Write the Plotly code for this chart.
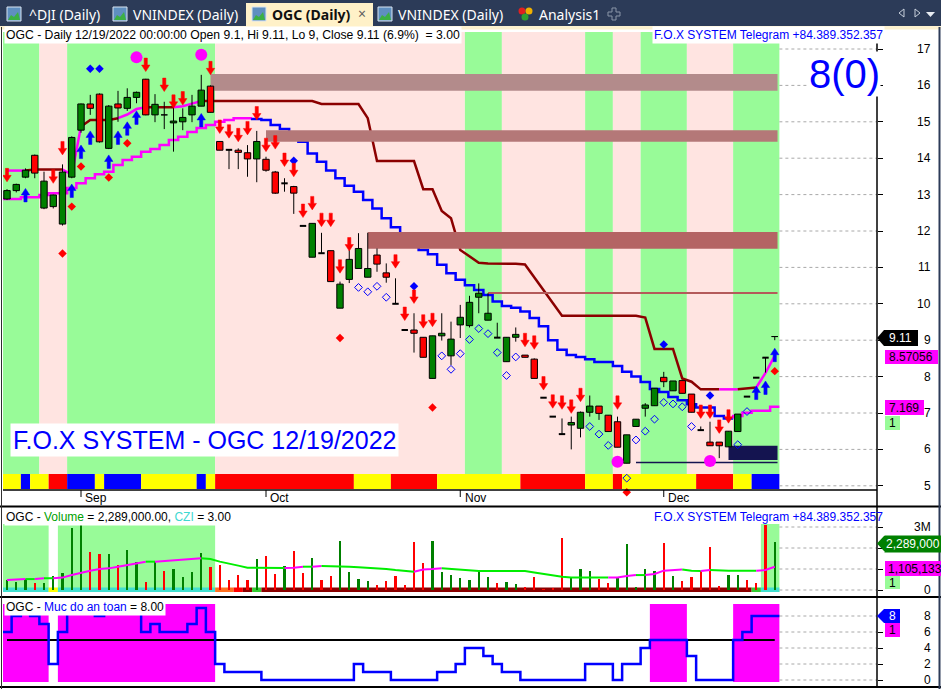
import plotly.graph_objects as go

W, H = 941, 689
def PX(x): return x / W
def PY(y): return 1 - y / H

BAR_PX = 9.25      # pixel width of one bar slot (glyph sizing only)
PRICE_PX = 36.4    # pixels per price unit (glyph sizing only)

# ---------------- data ----------------
months = ["Sep", "Oct", "Nov", "Dec"]
month_bar = [8, 28, 49, 71]

opens = [12.88, 13.11, 13.48, 14.08, 12.63, 12.67, 12.19, 13.48, 14.77, 15.49,
         15.76, 14.27, 15.49, 15.37, 15.67, 16.17, 15.19, 15.19, 14.97, 15.00,
         15.19, 15.43, 15.98, 14.46, 14.23, 14.22, 14.15, 13.98, 13.97, 13.62,
         13.31, 13.22, 12.14, 11.28, 11.39, 11.46, 9.88, 10.67, 10.97, 10.73,
         11.34, 10.85, 10.00, 9.28, 9.28, 9.08, 7.95, 9.12, 8.57, 9.42,
         9.40, 10.18, 9.55, 9.07, 8.41, 9.08, 8.59, 8.48, 7.42, 6.90,
         6.42, 6.67, 6.58, 7.02, 7.19, 6.94, 6.76, 5.62, 6.63, 7.13,
         7.20, 7.98, 7.61, 7.89, 7.52, 6.53, 6.20, 6.20, 6.07, 6.49,
         7.45, 7.97, 8.52, 9.10]
highs = [13.15, 13.30, 13.72, 14.10, 13.63, 13.00, 13.83, 14.60, 15.50, 15.74,
         15.78, 15.46, 15.85, 15.92, 15.83, 16.18, 15.76, 15.55, 15.46, 15.37,
         15.74, 16.29, 16.00, 14.46, 14.25, 14.27, 14.36, 14.75, 14.04, 13.65,
         13.45, 13.24, 12.14, 12.21, 11.95, 11.46, 10.61, 11.48, 11.94, 11.95,
         11.52, 11.11, 10.70, 9.28, 9.74, 9.08, 9.12, 9.74, 9.51, 9.97,
         10.22, 10.56, 10.29, 9.48, 9.08, 9.35, 8.59, 8.50, 7.42, 6.90,
         6.85, 6.90, 7.04, 7.48, 7.19, 6.94, 6.90, 6.40, 6.83, 7.27,
         7.68, 8.13, 7.88, 7.89, 7.52, 6.63, 6.76, 6.20, 6.50, 6.97,
         7.45, 7.97, 8.52, 9.11]
lows = [12.85, 13.06, 13.45, 13.45, 12.60, 12.62, 12.15, 13.45, 14.70, 15.19,
        14.43, 14.25, 15.00, 15.30, 15.51, 15.18, 14.99, 14.80, 14.18, 14.77,
        14.99, 15.43, 15.26, 14.22, 13.70, 13.70, 13.49, 13.34, 13.63, 13.02,
        13.08, 12.47, 12.14, 11.28, 11.39, 10.61, 9.88, 10.57, 10.97, 10.73,
        10.88, 10.58, 10.00, 9.28, 8.66, 8.53, 7.95, 8.99, 8.32, 9.06,
        9.35, 9.74, 9.55, 9.07, 8.41, 8.96, 8.53, 7.95, 7.42, 6.90,
        6.42, 6.00, 6.33, 6.90, 6.81, 6.49, 6.06, 5.62, 6.63, 6.90,
        7.20, 7.71, 7.61, 7.54, 7.02, 6.53, 6.10, 5.76, 6.07, 6.49,
        7.45, 7.97, 8.11, 9.00]
closes = [13.11, 13.28, 13.67, 13.59, 13.37, 12.99, 13.62, 14.57, 15.49, 15.37,
          14.45, 15.43, 15.38, 15.67, 15.81, 15.19, 15.48, 15.20, 15.02, 15.12,
          15.43, 15.87, 15.26, 14.22, 14.23, 14.16, 13.98, 14.46, 13.67, 13.04,
          13.31, 13.04, 12.14, 12.21, 11.39, 10.61, 10.54, 11.22, 11.52, 10.97,
          11.09, 10.73, 10.00, 9.28, 9.19, 8.53, 9.12, 9.19, 9.03, 9.63,
          10.04, 10.29, 9.74, 9.07, 9.08, 9.16, 8.53, 7.95, 7.42, 6.90,
          6.42, 6.74, 7.02, 7.19, 6.99, 6.49, 6.06, 6.40, 6.83, 7.22,
          7.68, 7.86, 7.88, 7.54, 7.02, 6.53, 6.10, 6.10, 6.50, 6.97,
          7.45, 7.97, 8.52, 9.11]

# upper trailing stop line and its state per bar (U = below price, D = above)
stop_line = [13.66, 13.66, 13.66, 13.69, 13.69, 13.69, 13.69, 13.55, 14.87, 15.05,
             15.05, 15.05, 15.10, 15.20, 15.35, 15.40, 15.40, 15.40, 15.40, 15.43,
             15.50, 15.57, 15.57, 15.57, 15.57, 15.57, 15.57, 15.57, 15.57, 15.57,
             15.57, 15.57, 15.57, 15.57, 15.49, 15.49, 15.49, 15.49, 15.49, 15.10,
             13.92, 13.92, 13.92, 13.92, 13.92, 13.15, 13.15, 12.55, 12.35, 11.48,
             11.30, 11.13, 11.11, 11.11, 11.11, 11.10, 11.08, 10.73, 10.38, 10.02,
             9.67, 9.67, 9.67, 9.67, 9.67, 9.67, 9.67, 9.67, 9.67, 9.62,
             8.76, 8.76, 8.76, 7.95, 7.86, 7.65, 7.65, 7.65, 7.65, 7.65,
             7.68, 7.70, 8.10, 8.57056]
stop_runs = [(0, 2, "U"), (3, 6, "D"), (7, 8, "U"), (9, 12, "D"), (13, 15, "U"),
             (16, 18, "D"), (19, 21, "U"), (22, 77, "D"), (78, 79, "U"),
             (80, 81, "D"), (82, 83, "U")]

# lower stepped line
trail_line = [12.88, 12.88, 12.93, 12.93, 12.99, 13.04, 13.04, 13.18, 13.31, 13.45,
              13.56, 13.63, 13.81, 13.95, 14.04, 14.18, 14.25, 14.36, 14.50, 14.59,
              14.72, 14.83, 14.91, 15.00, 15.05, 15.10, 15.10, 15.08, 15.05, 14.91,
              14.80, 14.60, 14.45, 14.13, 13.90, 13.66, 13.45, 13.24, 13.08, 12.85,
              12.62, 12.35, 12.10, 11.84, 11.60, 11.48, 11.36, 11.07, 10.84, 10.66,
              10.51, 10.38, 10.24, 10.06, 9.94, 9.89, 9.79, 9.61, 9.38, 9.00,
              8.74, 8.59, 8.54, 8.48, 8.40, 8.40, 8.29, 8.13, 8.00, 7.85,
              7.66, 7.58, 7.44, 7.35, 7.24, 7.15, 7.15, 6.92, 6.85, 6.92,
              7.01, 7.06, 7.06, 7.169]
trail_runs = [(0, 26, "U"), (27, 78, "D"), (79, 83, "U")]

# resistance / support zones
zone_lo = [15.85, 14.45, 11.51]
zone_hi = [16.31, 14.77, 11.97]
zone_start = [22, 28, 39]
level_price, level_start = 10.30, 52
box_lo, box_hi, box_start = 5.71, 6.10, 78
floor_price, floor_start = 5.64, 68

# signals
sell_bar = [0, 5, 6, 15, 17, 18, 19, 22, 23, 24, 25, 26, 27, 28, 29, 30, 31, 32, 33, 34,
            35, 36, 37, 42, 43, 44, 45, 46, 56, 57, 58, 59, 60, 61, 62, 66, 75, 76, 77, 78]
sell_tip = [13.35, 13.31, 14.09, 16.38, 15.83, 15.37, 15.46, 16.29, 14.68, 14.55,
            14.45, 14.64, 15.05, 14.18, 14.25, 13.77, 13.49, 12.37, 12.58, 12.12,
            12.12, 10.84, 11.45, 10.98, 9.54, 10.01, 9.33, 9.37, 8.82, 8.75,
            7.63, 7.13, 7.10, 6.99, 7.31, 7.10, 6.85, 6.85, 6.44, 6.72]
buy_bar = [2, 7, 8, 9, 11, 12, 13, 14, 21, 81, 82, 83]
buy_tip = [13.17, 13.29, 14.36, 14.75, 14.09, 14.75, 15.00, 15.30, 15.23, 7.74, 7.88, 8.78]
red_dot_bar = [6, 7, 8, 11, 13, 36, 46, 67, 83]
red_dot_px = [11.38, 12.67, 13.77, 13.47, 14.41, 9.06, 7.15, 4.82, 8.15]
blue_dot_bar = [9, 10, 31, 44, 71, 76]
blue_dot_px = [16.46, 16.46, 13.93, 10.48, 8.88, 7.48]
pink_circle_bar = [14, 21, 66, 76]
pink_circle_px = [16.77, 16.84, 5.66, 5.68]
hollow_bar = [38, 39, 40, 41, 47, 48, 49, 50, 51, 52, 53, 54, 55, 63, 64, 65, 67, 68,
              69, 70, 71, 72, 73, 74, 79, 80]
hollow_px = [10.45, 10.33, 10.48, 10.18, 8.57, 8.20, 8.63, 9.02, 9.32, 9.18, 8.66,
             8.03, 8.54, 6.63, 6.42, 6.11, 5.21, 6.26, 6.50, 6.83, 7.29, 7.25, 7.17,
             6.63, 6.13, 7.04]

# background regimes (start bar, end bar, code)
price_bg_runs = [(0, 3, "G"), (4, 6, "P"), (7, 22, "G"), (23, 49, "P"), (50, 53, "G"),
                 (54, 62, "P"), (63, 65, "G"), (66, 68, "P"), (69, 73, "G"),
                 (74, 78, "P"), (79, 83, "G")]
trend_strip_runs = [(0, 1, "Y"), (2, 2, "B"), (3, 4, "Y"), (5, 6, "R"), (7, 9, "B"),
                    (10, 10, "Y"), (11, 14, "B"), (15, 20, "Y"), (21, 21, "B"),
                    (22, 22, "Y"), (23, 37, "R"), (38, 41, "Y"), (42, 46, "R"),
                    (47, 55, "Y"), (56, 62, "R"), (63, 65, "Y"), (66, 66, "R"),
                    (67, 74, "Y"), (75, 78, "R"), (79, 80, "Y"), (81, 83, "B")]
vol_bg_runs = [(0, 4), (6, 22), (82, 83)]
vol_strip_runs = [(0, 4, "C"), (5, 5, "Y"), (6, 22, "C"), (23, 24, "O"), (25, 25, "R"),
                  (26, 26, "D"), (27, 27, "G"), (28, 80, "D"), (81, 81, "G"), (82, 83, "C")]
safety_bg_runs = [(0, 4), (6, 22), (70, 73), (79, 83)]

# volume (thousand shares), direction, moving average (millions)
volume_k = [480, 400, 520, 350, 350, 670, 830, 2940, 3140, 1830,
            1710, 1710, 1190, 1900, 1350, 400, 1350, 920, 1000, 630,
            870, 1780, 1110, 1190, 480, 710, 480, 1480, 1620, 760,
            1140, 1870, 830, 1540, 480, 670, 2330, 870, 520, 430,
            240, 430, 670, 240, 2300, 1270, 2350, 870, 710, 590,
            500, 950, 600, 320, 400, 290, 130, 600, 30, 50,
            2490, 560, 1000, 920, 520, 320, 600, 2190, 130, 1000,
            900, 2250, 670, 440, 600, 920, 2060, 190, 710, 710,
            480, 350, 3100, 2289]
volume_dir = list("gggrgggggrrgrggrgrgggg" + "rrrrrgrrgrrgrrgggg" + "rrrrrrggggggg" +
                  "rggrrrrrgggrrgggggrgrrrrrggrrrg")
vol_ma_m = [0.48, 0.51, 0.52, 0.52, 0.56, 0.56, 0.59, 0.71, 0.83, 0.92,
            1.00, 1.03, 1.11, 1.19, 1.30, 1.35, 1.35, 1.38, 1.40, 1.43,
            1.48, 1.51, 1.48, 1.35, 1.24, 1.16, 1.06, 1.06, 1.06, 1.05,
            1.05, 1.06, 1.11, 1.11, 1.14, 1.14, 1.11, 1.11, 1.08, 1.06,
            1.03, 1.00, 0.95, 0.90, 0.87, 0.98, 1.00, 1.03, 1.00, 0.95,
            0.92, 0.90, 0.90, 0.90, 0.90, 0.90, 0.90, 0.83, 0.76, 0.67,
            0.63, 0.60, 0.60, 0.60, 0.59, 0.59, 0.60, 0.67, 0.71, 0.71,
            0.76, 0.92, 0.95, 0.98, 0.92, 0.90, 0.95, 0.92, 0.92, 0.92,
            0.92, 0.92, 0.95, 1.105133]

# safety level ("Muc do an toan")
safety = [6, 8, 9, 8, 7, 2, 6, 9, 9, 9,
          8, 9, 9, 9, 9, 6, 7, 6, 6, 6,
          7, 9, 6, 2, 1, 1, 1, 1, 0, 0,
          0, 0, 0, 0, 0, 0, 0, 0, 2, 1,
          1, 1, 0, 0, 0, 0, 0, 1, 1, 2,
          4, 4, 3, 2, 1, 1, 0, 0, 0, 0,
          0, 0, 0, 2, 2, 2, 0, 2, 2, 4,
          5, 5, 5, 5, 3, 0, 0, 0, 0, 5,
          6, 8, 8, 8]
safety_threshold = 5

price_ticks = list(range(5, 18))
volume_ticks = [0, 1e6, 2e6, 3e6]
volume_tick_text = ["0", "", "2M", "3M"]   # 1M is hidden behind the value label
safety_ticks = [0, 2, 4, 6, 8]

tab_labels = ["^DJI (Daily)", "VNINDEX (Daily)", "OGC (Daily)", "VNINDEX (Daily)", "Analysis1"]

# ---------------- styling ----------------
FONT = "Liberation Sans, Arial, sans-serif"
GREEN_BG = "#98FB98"
PINK_BG = "#FFE4E1"
MAGENTA = "#FF00FF"
MAROON = "#8B0000"
BLUE = "#0000FF"
STRIP_COL = {"Y": "#FFFF00", "B": "#0000FF", "R": "#FF0000"}
VSTRIP_COL = {"C": "#40E0D0", "Y": "#FFFF00", "O": "#FF7020", "R": "#FF0000",
              "D": "#8B0000", "G": "#32CD32"}
ZONE_COL = ["#B38B8B", "#B47878", "#B46464"]

n = len(closes)
idx = list(range(n))
last_x = n - 1 + 0.3
X0 = (3 - 7) / BAR_PX
X1 = (877 - 7) / BAR_PX
P_TOP = 17 + (49 - 29) / PRICE_PX
P_BOT = 17 - (505 - 49) / PRICE_PX

fig = go.Figure()
shapes = []
ann = []

def rect_paper(x0, y0, x1, y1, color, layer="below", line=None):
    shapes.append(dict(type="rect", xref="paper", yref="paper", x0=PX(x0), x1=PX(x1),
                       y0=PY(y1), y1=PY(y0), fillcolor=color, layer=layer,
                       line=line or dict(width=0)))

def line_paper(x0, y0, x1, y1, color="black", width=1, layer="above", dash=None):
    d = dict(type="line", xref="paper", yref="paper", x0=PX(x0), x1=PX(x1),
             y0=PY(y0), y1=PY(y1), layer=layer, line=dict(color=color, width=width))
    if dash:
        d["line"]["dash"] = dash
    shapes.append(d)

def text(x, y, s, size=12, color="black", xanchor="left", bg=None, family=FONT, pad=1):
    a = dict(xref="paper", yref="paper", x=PX(x), y=PY(y), text=s, showarrow=False,
             xanchor=xanchor, yanchor="middle", font=dict(size=size, color=color, family=family),
             borderpad=pad)
    if bg:
        a["bgcolor"] = bg
    ann.append(a)

# ---- price panel background shading ----
for a, b, c in price_bg_runs:
    shapes.append(dict(type="rect", xref="x", yref="paper", x0=a - 0.5, x1=b + 0.5,
                       y0=PY(474), y1=PY(32), fillcolor=GREEN_BG if c == "G" else PINK_BG,
                       layer="below", line=dict(width=0)))
for a, b, c in trend_strip_runs:
    shapes.append(dict(type="rect", xref="x", yref="paper", x0=a - 0.5, x1=b + 0.5,
                       y0=PY(489), y1=PY(474), fillcolor=STRIP_COL[c], layer="below",
                       line=dict(width=0)))
for p in price_ticks:
    shapes.append(dict(type="line", xref="x", yref="y", x0=n - 0.5, x1=X1, y0=p, y1=p,
                       layer="below", line=dict(color="#A8A8A8", width=1, dash="dot")))

# ---- volume panel background ----
for a, b in vol_bg_runs:
    shapes.append(dict(type="rect", xref="x", yref="paper", x0=a - 0.5, x1=b + 0.5,
                       y0=PY(592), y1=PY(524), fillcolor=GREEN_BG, layer="below",
                       line=dict(width=0)))
for a, b, c in vol_strip_runs:
    shapes.append(dict(type="rect", xref="x", yref="paper", x0=a - 0.5, x1=b + 0.5,
                       y0=PY(592), y1=PY(587.5), fillcolor=VSTRIP_COL[c], layer="below",
                       line=dict(width=0)))
for v in volume_ticks:
    shapes.append(dict(type="line", xref="x", yref="y2", x0=n - 0.5, x1=X1, y0=v, y1=v,
                       layer="below", line=dict(color="#A8A8A8", width=1, dash="dot")))

# ---- safety panel background ----
for a, b in safety_bg_runs:
    shapes.append(dict(type="rect", xref="x", yref="paper", x0=a - 0.5, x1=b + 0.5,
                       y0=PY(682), y1=PY(604), fillcolor=MAGENTA, layer="below",
                       line=dict(width=0)))
for v in safety_ticks:
    shapes.append(dict(type="line", xref="x", yref="y3", x0=n - 0.5, x1=X1, y0=v, y1=v,
                       layer="below", line=dict(color="#A8A8A8", width=1, dash="dot")))
shapes.append(dict(type="line", xref="x", yref="y3", x0=0, x1=n - 1, y0=safety_threshold,
                   y1=safety_threshold, layer="below", line=dict(color="black", width=2)))

# ---- price traces ----
STOP_COL = {"U": MAGENTA, "D": MAROON}
for a, b, st in stop_runs:
    i0 = max(a - 1, 0)
    fig.add_trace(go.Scatter(x=idx[i0:b + 1], y=stop_line[i0:b + 1], mode="lines",
                             line=dict(color=STOP_COL[st], width=2.5),
                             xaxis="x", yaxis="y", hoverinfo="skip"))
TRAIL_COL = {"U": MAGENTA, "D": BLUE}
for a, b, st in trail_runs:
    xs, ys = [], []
    if a > 0:
        xs.append(a - 0.5); ys.append(trail_line[a - 1])
    for i in range(a, b + 1):
        xs.append(i - 0.5); ys.append(trail_line[i])
    xs.append(b + 0.5); ys.append(trail_line[b])
    fig.add_trace(go.Scatter(x=xs, y=ys, mode="lines", line=dict(color=TRAIL_COL[st], width=2.5, shape="hv"),
                             xaxis="x", yaxis="y", hoverinfo="skip"))

# zones drawn above the lines but below candles
for lo, hi, s, col in zip(zone_lo, zone_hi, zone_start, ZONE_COL):
    fig.add_trace(go.Scatter(x=[s, last_x, last_x, s, s], y=[lo, lo, hi, hi, lo], mode="lines",
                             fill="toself", fillcolor=col, line=dict(width=0, color=col),
                             xaxis="x", yaxis="y", hoverinfo="skip"))
fig.add_trace(go.Scatter(x=[level_start, last_x], y=[level_price, level_price], mode="lines",
                         line=dict(color="#B45A5A", width=2), xaxis="x", yaxis="y", hoverinfo="skip"))
fig.add_trace(go.Scatter(x=[floor_start, last_x], y=[floor_price, floor_price], mode="lines",
                         line=dict(color="#141450", width=1.5), xaxis="x", yaxis="y", hoverinfo="skip"))
fig.add_trace(go.Scatter(x=[box_start, last_x, last_x, box_start, box_start],
                         y=[box_lo, box_lo, box_hi, box_hi, box_lo], mode="lines", fill="toself",
                         fillcolor="#141450", line=dict(width=0, color="#141450"),
                         xaxis="x", yaxis="y", hoverinfo="skip"))

# candles (wicks then bodies)
wx, wy = [], []
for i in idx:
    wx += [i, i, None]; wy += [lows[i], highs[i], None]
fig.add_trace(go.Scatter(x=wx, y=wy, mode="lines", line=dict(color="black", width=1),
                         xaxis="x", yaxis="y", hoverinfo="skip"))
hw = 3.2 / BAR_PX
for up in (True, False):
    bx, by = [], []
    for i in idx:
        o, c = opens[i], closes[i]
        if o == c or (c > o) != up:
            continue
        lo, hi = min(o, c), max(o, c)
        bx += [i - hw, i + hw, i + hw, i - hw, i - hw, None]
        by += [lo, lo, hi, hi, lo, None]
    fig.add_trace(go.Scatter(x=bx, y=by, mode="lines", fill="toself",
                             fillcolor="#008000" if up else "#FF0000",
                             line=dict(color="black", width=1), xaxis="x", yaxis="y", hoverinfo="skip"))
dx_, dy_ = [], []
for i in idx:
    if opens[i] == closes[i]:
        dx_ += [i - hw, i + hw, None]; dy_ += [closes[i], closes[i], None]
fig.add_trace(go.Scatter(x=dx_, y=dy_, mode="lines", line=dict(color="black", width=2),
                         xaxis="x", yaxis="y", hoverinfo="skip"))

# markers
fig.add_trace(go.Scatter(x=hollow_bar, y=hollow_px, mode="markers",
                         marker=dict(symbol="diamond-open", size=6, color=BLUE, line=dict(width=1, color=BLUE)),
                         xaxis="x", yaxis="y", hoverinfo="skip"))
fig.add_trace(go.Scatter(x=red_dot_bar, y=red_dot_px, mode="markers",
                         marker=dict(symbol="diamond", size=6.5, color="#FF0000"),
                         xaxis="x", yaxis="y", hoverinfo="skip", cliponaxis=False))
fig.add_trace(go.Scatter(x=blue_dot_bar, y=blue_dot_px, mode="markers",
                         marker=dict(symbol="diamond", size=6.5, color=BLUE),
                         xaxis="x", yaxis="y", hoverinfo="skip"))
fig.add_trace(go.Scatter(x=pink_circle_bar, y=pink_circle_px, mode="markers",
                         marker=dict(symbol="circle", size=12, color=MAGENTA),
                         xaxis="x", yaxis="y", hoverinfo="skip"))

def arrows(bars, tips, down):
    s = -1 if down else 1   # direction from tip toward tail
    ax, ay = [], []
    kx, ky = 1 / BAR_PX, 1 / PRICE_PX
    for b, p in zip(bars, tips):
        pts = [(0, 0), (-4.2, 6.5), (-1.6, 6.5), (-1.6, 13.5), (1.6, 13.5), (1.6, 6.5), (4.2, 6.5), (0, 0)]
        for qx, qy in pts:
            ax.append(b + qx * kx)
            ay.append(p - s * qy * ky)
        ax.append(None); ay.append(None)
    return ax, ay

ax, ay = arrows(sell_bar, sell_tip, True)
fig.add_trace(go.Scatter(x=ax, y=ay, mode="lines", fill="toself", fillcolor="#FF0000",
                         line=dict(color="#FF0000", width=0.5), xaxis="x", yaxis="y", hoverinfo="skip"))
ax, ay = arrows(buy_bar, buy_tip, False)
fig.add_trace(go.Scatter(x=ax, y=ay, mode="lines", fill="toself", fillcolor=BLUE,
                         line=dict(color=BLUE, width=0.5), xaxis="x", yaxis="y", hoverinfo="skip"))

# ---- volume traces ----
fig.add_trace(go.Bar(x=idx, y=[v * 1000 for v in volume_k], width=0.24,
                     marker=dict(color=["#008000" if d == "g" else "#FF0000" for d in volume_dir], line=dict(width=0)),
                     xaxis="x2", yaxis="y2", hoverinfo="skip"))
ma_state = ["U"] + ["U" if vol_ma_m[i] > vol_ma_m[i - 1] else "D" for i in range(1, n)]
runs, s0 = [], 0
for i in range(1, n + 1):
    if i == n or ma_state[i] != ma_state[s0]:
        runs.append((s0, i - 1, ma_state[s0])); s0 = i
for a, b, st in runs:
    i0 = max(a - 1, 0)
    fig.add_trace(go.Scatter(x=idx[i0:b + 1], y=[v * 1e6 for v in vol_ma_m[i0:b + 1]], mode="lines",
                             line=dict(color=MAGENTA if st == "U" else "#00EE00", width=2),
                             xaxis="x2", yaxis="y2", hoverinfo="skip"))

# ---- safety trace ----
sx = [i - 0.5 for i in idx] + [n - 0.5]
sy = safety + [safety[-1]]
fig.add_trace(go.Scatter(x=sx, y=sy, mode="lines", line=dict(color=BLUE, width=2.5, shape="hv"),
                         xaxis="x3", yaxis="y3", hoverinfo="skip"))

# ---- frame lines ----
line_paper(3, 490, 877, 490, width=1.5)
for m, b in zip(months, month_bar):
    shapes.append(dict(type="line", xref="x", yref="paper", x0=b, x1=b, y0=PY(490), y1=PY(497),
                       line=dict(color="black", width=1)))
    ann.append(dict(xref="x", yref="paper", x=b + 0.25, y=PY(497.5), text=m, showarrow=False,
                    xanchor="left", yanchor="middle", font=dict(size=12, color="black", family=FONT)))
line_paper(0, 506.5, 941, 506.5, width=2)
line_paper(0, 597, 941, 597, width=2)
line_paper(0, 687, 941, 687, width=2)
line_paper(877, 29, 877, 687, width=1.5)
line_paper(1.5, 27, 1.5, 689, color="#303030", width=1)
line_paper(939.5, 27, 939.5, 689, color="#2C3B58", width=2)

# ---- tab bar ----
rect_paper(0, 0, 941, 26, "#2C3B58")
rect_paper(0, 26, 941, 29.5, "#FCF1CF")
rect_paper(246, 3, 373, 27, "#FFF1C8")
for x0 in (7, 113, 252, 378):
    rect_paper(x0, 7, x0 + 14, 21, "#5F8FC0", layer="above", line=dict(color="#D8E4F0", width=1))
    shapes.append(dict(type="path", xref="paper", yref="paper", layer="above",
                       path="M %f,%f L %f,%f L %f,%f L %f,%f L %f,%f Z" % (
                           PX(x0 + 1), PY(20), PX(x0 + 4), PY(15), PX(x0 + 7), PY(17),
                           PX(x0 + 11), PY(12), PX(x0 + 13), PY(20)),
                       fillcolor="#3CB043", line=dict(width=0)))
for cx, cy, col in ((522, 11, "#E02020"), (529, 11, "#F0B000"), (525, 17, "#30A030")):
    shapes.append(dict(type="circle", xref="paper", yref="paper", x0=PX(cx - 3.5), x1=PX(cx + 3.5),
                       y0=PY(cy + 3.5), y1=PY(cy - 3.5), fillcolor=col, line=dict(width=0), layer="above"))
shapes.append(dict(type="path", xref="paper", yref="paper", layer="above",
                   path="M %f,%f " % (PX(612), PY(8)) + " ".join("L %f,%f" % (PX(a), PY(b)) for a, b in [
                       (616, 8), (616, 12), (620, 12), (620, 16), (616, 16), (616, 20), (612, 20),
                       (612, 16), (608, 16), (608, 12), (612, 12)]) + " Z",
                   line=dict(color="#8A96A8", width=1)))
for path in ("M %f,%f L %f,%f L %f,%f Z" % (PX(904), PY(9), PX(899), PY(13), PX(904), PY(17)),
             "M %f,%f L %f,%f L %f,%f Z" % (PX(915), PY(9), PX(920), PY(13), PX(915), PY(17))):
    shapes.append(dict(type="path", xref="paper", yref="paper", layer="above", path=path,
                       line=dict(color="#C8D0DC", width=1)))
shapes.append(dict(type="path", xref="paper", yref="paper", layer="above",
                   path="M %f,%f L %f,%f L %f,%f Z" % (PX(926), PY(12), PX(935), PY(12), PX(930.5), PY(17)),
                   fillcolor="#E8ECF2", line=dict(width=0)))
TAB_FONT = "Noto Sans, DejaVu Sans, sans-serif"
for lab, x in zip(tab_labels, (27, 131, 270, 396, 537)):
    if lab == "OGC (Daily)":
        text(x, 14.5, "<b>%s</b>" % lab, size=14, color="#101010", family=TAB_FONT)
    else:
        text(x, 14.5, lab, size=14, color="white", family=TAB_FONT)
text(362, 14, "×", size=14, color="#606060", xanchor="center", family=TAB_FONT)

# ---- panel titles ----
text(4, 35, "OGC - Daily 12/19/2022 00:00:00 Open 9.1, Hi 9.11, Lo 9, Close 9.11 (6.9%)\u00a0\u00a0= 3.00",
     bg="white", size=12.2)
text(652, 35, "F.O.X SYSTEM Telegram +84.389.352.357", color=BLUE, bg="white")
text(844, 74, "8(0)", size=40, color=BLUE, xanchor="center", bg="white", pad=0)
text(10, 440, "F.O.X SYSTEM - OGC 12/19/2022", size=25, color=BLUE, bg="white", pad=2)
text(4, 516.5, "OGC - <span style='color:#00A000'>Volume</span> = 2,289,000.00, "
     "<span style='color:#40D8D0'>CZI</span> = 3.00", bg="white")
text(652, 516.5, "F.O.X SYSTEM Telegram +84.389.352.357", color=BLUE)
text(4, 607, "OGC - <span style='color:#0000FF'>Muc do an toan</span> = 8.00", bg="white")

# ---- axis labels (right aligned) ----
for p in price_ticks:
    text(933, 49 + (17 - p) * PRICE_PX, str(p), xanchor="right")
for v, t in zip(volume_ticks, volume_tick_text):
    if t:
        text(933, 590 - v / 1e6 * 21, t, xanchor="right")
for v in safety_ticks:
    text(933, 680 - v * 8, str(v), xanchor="right")

# ---- last-value labels ----
def flag(x0, x1, y0, y1, color, arrow=False):
    if arrow:
        ym = (y0 + y1) / 2
        shapes.append(dict(type="path", xref="paper", yref="paper", layer="above",
                           path="M %f,%f L %f,%f L %f,%f L %f,%f L %f,%f Z" % (
                               PX(x0), PY(ym), PX(x0 + 7), PY(y0), PX(x1), PY(y0),
                               PX(x1), PY(y1), PX(x0 + 7), PY(y1)),
                           fillcolor=color, line=dict(width=0)))
    else:
        rect_paper(x0, y0, x1, y1, color, layer="above")

flag(877, 918, 330, 346, "black", arrow=True)
flag(885, 938, 350, 364, MAGENTA)
flag(885, 924, 400, 415, MAGENTA)
flag(885, 900, 416, 430, GREEN_BG)
text(900, 338, "9.11", color="white", xanchor="center")
text(911, 357, "8.57056", xanchor="center")
text(904, 407.5, "7.169", xanchor="center")
text(892.5, 423, "1", xanchor="center")

flag(877, 941, 536, 551, "#008000", arrow=True)
flag(885, 941, 561, 576, MAGENTA)
flag(885, 900, 576, 589, GREEN_BG)
text(884, 543.5, "2,289,000", color="white", bg="#008000", pad=1)
text(886, 568.5, "1,105,133")
text(892.5, 582.5, "1", xanchor="center")

flag(877, 900, 609, 623, BLUE, arrow=True)
flag(885, 900, 623, 637, MAGENTA)
text(892, 616, "8", color="white", xanchor="center")
text(892.5, 630, "1", xanchor="center")

# ---- layout ----
xcommon = dict(domain=[PX(3), PX(877)], range=[X0, X1], showgrid=False, zeroline=False,
               showticklabels=False, ticks="", showline=False, fixedrange=True)
ycommon = dict(side="right", ticks="outside", ticklen=5, tickcolor="black", tickwidth=1,
               showticklabels=False, showgrid=False, zeroline=False, showline=False, fixedrange=True)
fig.update_layout(
    width=W, height=H, margin=dict(l=0, r=0, t=0, b=0),
    paper_bgcolor="white", plot_bgcolor="white", showlegend=False, hovermode=False,
    xaxis=dict(**xcommon, anchor="y", rangeslider=dict(visible=False)),
    xaxis2=dict(**xcommon, anchor="y2", matches="x"),
    xaxis3=dict(**xcommon, anchor="y3", matches="x"),
    yaxis=dict(**ycommon, domain=[PY(505), PY(29)], range=[P_BOT, P_TOP], tickvals=price_ticks, anchor="x"),
    yaxis2=dict(**ycommon, domain=[PY(596), PY(507)],
                range=[-(596 - 590) / 21 * 1e6, (590 - 507) / 21 * 1e6], tickvals=volume_ticks, anchor="x2"),
    yaxis3=dict(**ycommon, domain=[PY(687), PY(598)], range=[-(687 - 680) / 8, (680 - 598) / 8],
                tickvals=safety_ticks, anchor="x3"),
    shapes=shapes, annotations=ann, bargap=0,
)
fig.write_html("out.html", config={"displayModeBar": False},
               post_script="document.body.style.margin='0';document.body.style.overflow='hidden';")
